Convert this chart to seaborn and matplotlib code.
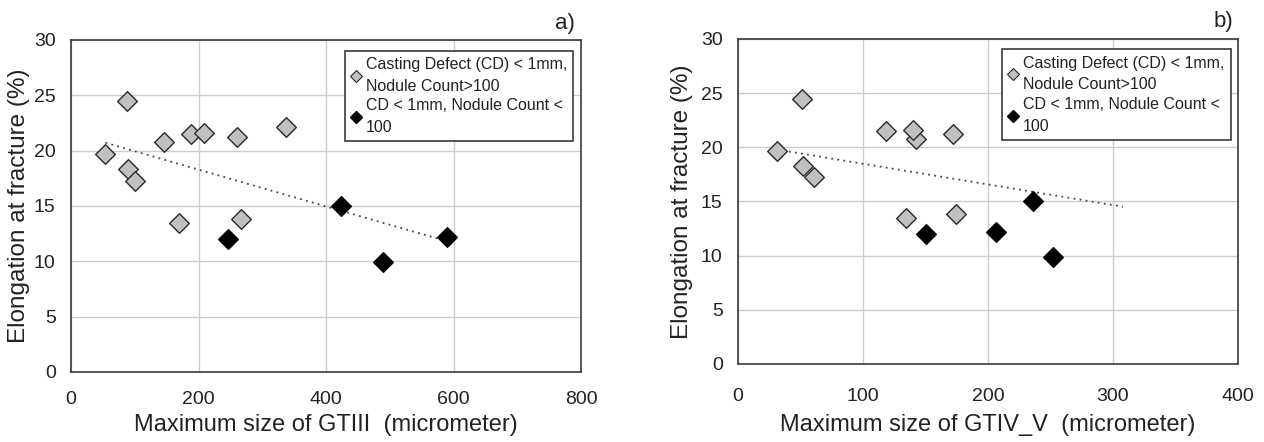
import matplotlib
matplotlib.use("Agg")
import matplotlib.pyplot as plt
from matplotlib.lines import Line2D
import seaborn as sns
import pandas as pd

# ---- data ----
gray_elong = [19.7, 24.5, 18.3, 17.3, 20.8, 13.5, 21.5, 21.6, 21.2, 13.8, 22.1]
gray_gt3 = [54, 88, 89, 100, 146, 170, 189, 208, 260, 266, 338]
gray_gt45 = [31, 51, 52, 61, 142, 134, 118, 140, 172, 174, 308]
black_elong = [12.0, 15.0, 9.9, 12.2]
black_gt3 = [247, 423, 490, 590]
black_gt45 = [150, 236, 252, 206]

label_gray = "Casting Defect (CD) < 1mm,\nNodule Count>100"
label_black = "CD < 1mm, Nodule Count <\n100"
xlabels = ["Maximum size of GTIII  (micrometer)", "Maximum size of GTIV_V  (micrometer)"]
ylabel = "Elongation at fracture (%)"
panel_tags = ["a)", "b)"]
xticks = [[0, 200, 400, 600, 800], [0, 100, 200, 300, 400]]
yticks = [0, 5, 10, 15, 20, 25, 30]

sns.set_theme(style="whitegrid")
plt.rcParams['font.family'] = ['Liberation Sans', 'DejaVu Sans']

fig = plt.figure(figsize=(12.64, 4.42), dpi=100)
ax1 = fig.add_axes([71/1264, 1-372/442, 510/1264, 332/442])
ax2 = fig.add_axes([738/1264, 1-364/442, 500/1264, 325/442])

GRAY = "#c0c0c0"
EDGE = "#2a2a2a"
TXT = "#222222"

panels = [(ax1, gray_gt3, black_gt3, 800, 9, 4, 3), (ax2, gray_gt45, black_gt45, 400, 12, 7, 6)]
for i, (ax, gx, bx, xmax, xpad, xlpad, ylpad) in enumerate(panels):
    dg = pd.DataFrame({"x": gx, "y": gray_elong})
    db = pd.DataFrame({"x": bx, "y": black_elong})
    dall = pd.concat([dg, db], ignore_index=True)
    sns.scatterplot(data=dg, x="x", y="y", ax=ax, marker="D", s=100, color=GRAY,
                    edgecolor=EDGE, linewidth=1.0, zorder=3)
    sns.scatterplot(data=db, x="x", y="y", ax=ax, marker="D", s=100, color="black",
                    edgecolor="black", linewidth=1.0, zorder=3)
    sns.regplot(data=dall, x="x", y="y", ax=ax, scatter=False, ci=None, truncate=True,
                line_kws=dict(color="#444444", lw=1.3, ls=(0, (1, 2.4)), zorder=2))
    ax.set_xlim(0, xmax)
    ax.set_ylim(0, 30)
    ax.set_xticks(xticks[i])
    ax.set_yticks(yticks)
    ax.grid(True, color="#cccccc", lw=1.0)
    for sp in ax.spines.values():
        sp.set_color("#3a3a3a")
        sp.set_linewidth(1.2)
    ax.tick_params(axis="both", direction="out", length=5, width=1.0, color="#3a3a3a",
                   labelsize=14, labelcolor=TXT)
    ax.tick_params(axis="y", pad=6)
    ax.tick_params(axis="x", pad=xpad)
    ax.set_xlabel(xlabels[i], fontsize=17, color=TXT, labelpad=xlpad)
    ax.set_ylabel(ylabel, fontsize=17.5, color=TXT, labelpad=ylpad)
    handles = [Line2D([], [], marker="D", ls="none", markersize=6.5, markerfacecolor=GRAY,
                      markeredgecolor=EDGE, markeredgewidth=0.8),
               Line2D([], [], marker="D", ls="none", markersize=6.5, markerfacecolor="black",
                      markeredgecolor="black")]
    leg = ax.legend(handles, [label_gray, label_black], loc="upper right",
                    bbox_to_anchor=(0.985, 0.968), fontsize=11.5, frameon=True,
                    fancybox=False, framealpha=1, edgecolor="#3a3a3a",
                    handlelength=0.6, handletextpad=0.3, borderpad=0.4,
                    labelspacing=0.3, borderaxespad=0.0)
    leg.get_frame().set_linewidth(1.2)
    for t in leg.get_texts():
        t.set_color(TXT)
        t.set_linespacing(1.55)
    leg.set_zorder(10)

fig.text(575/1264, 1-23/442, panel_tags[0], ha="right", va="center", fontsize=16, color=TXT)
fig.text(1233/1264, 1-21/442, panel_tags[1], ha="right", va="center", fontsize=16, color=TXT)

fig.savefig("out.png", dpi=100, facecolor="white")
